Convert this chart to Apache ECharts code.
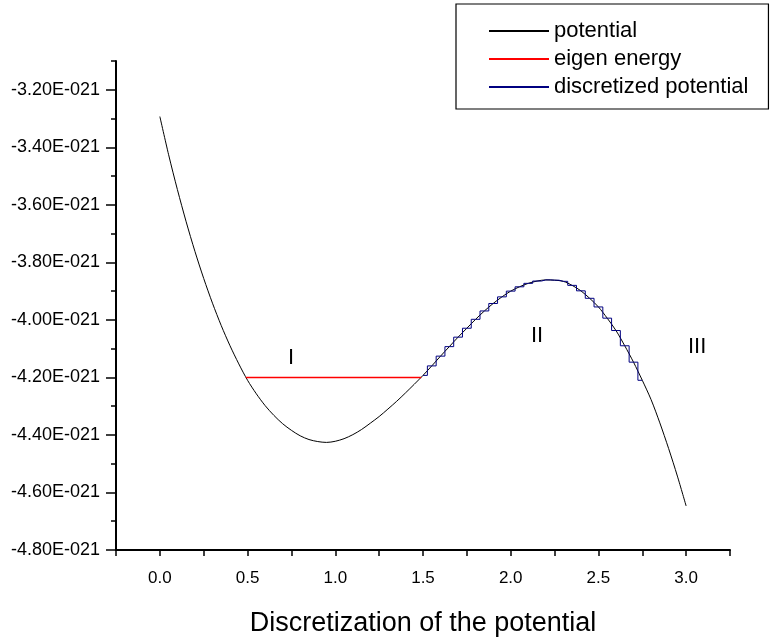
<!DOCTYPE html>
<html>
<head>
<meta charset="utf-8">
<script src="https://cdn.jsdelivr.net/npm/echarts@6/dist/echarts.min.js"></script>
<style>html,body{margin:0;padding:0;background:#fff;}#c{width:771px;height:642px;}</style>
</head>
<body>
<div id="c"></div>
<script>
// values in units of 1E-021
const potentialX = [0.00, 0.05, 0.10, 0.15, 0.20, 0.25, 0.30, 0.35, 0.40, 0.45, 0.50, 0.55, 0.60, 0.65, 0.70, 0.75, 0.80, 0.85, 0.90, 0.95, 1.00, 1.05, 1.10, 1.15, 1.20, 1.25, 1.30, 1.35, 1.40, 1.45, 1.50, 1.55, 1.60, 1.65, 1.70, 1.75, 1.80, 1.85, 1.90, 1.95, 2.00, 2.05, 2.10, 2.15, 2.20, 2.25, 2.30, 2.35, 2.40, 2.45, 2.50, 2.55, 2.60, 2.65, 2.70, 2.75, 2.80, 2.85, 2.90, 2.95, 3.00];
const potentialY = [-3.293, -3.426, -3.547, -3.659, -3.762, -3.856, -3.942, -4.020, -4.090, -4.153, -4.210, -4.257, -4.298, -4.332, -4.361, -4.384, -4.403, -4.416, -4.423, -4.426, -4.422, -4.413, -4.399, -4.381, -4.359, -4.336, -4.310, -4.283, -4.254, -4.224, -4.193, -4.160, -4.126, -4.093, -4.060, -4.029, -3.998, -3.969, -3.943, -3.920, -3.900, -3.885, -3.873, -3.865, -3.861, -3.862, -3.866, -3.880, -3.899, -3.925, -3.955, -3.994, -4.037, -4.090, -4.147, -4.210, -4.277, -4.358, -4.447, -4.543, -4.647];
const eigenX = [0.49, 1.49];
const eigenY = [-4.2, -4.2];
const discreteX = [1.50, 1.55, 1.60, 1.65, 1.70, 1.75, 1.80, 1.85, 1.90, 1.95, 2.00, 2.05, 2.10, 2.15, 2.20, 2.25, 2.30, 2.35, 2.40, 2.45, 2.50, 2.55, 2.60, 2.65, 2.70, 2.75];
const discreteY = [-4.193, -4.160, -4.126, -4.093, -4.060, -4.029, -3.998, -3.969, -3.943, -3.920, -3.900, -3.885, -3.873, -3.865, -3.861, -3.862, -3.866, -3.880, -3.899, -3.925, -3.955, -3.994, -4.037, -4.090, -4.147, -4.210];
const seriesNames = ['potential', 'eigen energy', 'discretized potential'];
const xAxisTitle = 'Discretization of the potential';
const regionLabels = ['I', 'II', 'III'];
const yMajorTicks = [-4.8, -4.6, -4.4, -4.2, -4.0, -3.8, -3.6, -3.4, -3.2];
const yMinorTicks = [-4.7, -4.5, -4.3, -4.1, -3.9, -3.7, -3.5, -3.3, -3.1];

const zip = (xs, ys) => xs.map((x, i) => [x, ys[i]]);
const FONT = '"Liberation Sans", Arial, sans-serif';

const chart = echarts.init(document.getElementById('c'), null, {renderer: 'canvas'});
chart.setOption({
  animation: false,
  backgroundColor: '#fff',
  grid: {left: 116, right: 41, top: 61, bottom: 86},
  legend: {
    orient: 'vertical', left: 456, top: 4,
    padding: [16, 20, 11, 32],
    itemWidth: 60, itemHeight: 14, itemGap: 6,
    borderColor: '#000', borderWidth: 1.2,
    itemStyle: {opacity: 0},
    lineStyle: {opacity: 1},
    data: seriesNames,
    textStyle: {fontFamily: FONT, fontSize: 22, color: '#000', lineHeight: 22}
  },
  xAxis: {
    type: 'value', min: -0.25, max: 3.25, interval: 0.25,
    name: xAxisTitle, nameLocation: 'middle', nameGap: 60,
    nameTextStyle: {fontFamily: FONT, fontSize: 27, color: '#000'},
    axisLine: {onZero: false, lineStyle: {color: '#000', width: 2}},
    axisTick: {inside: false, length: 6, lineStyle: {color: '#000', width: 1.5}},
    axisLabel: {
      margin: 20, fontFamily: FONT, fontSize: 17, color: '#000',
      formatter: v => (Math.abs(Math.round(v * 2) - v * 2) < 1e-6 ? v.toFixed(1) : '')
    },
    splitLine: {show: false}
  },
  yAxis: [
    {
      type: 'value', min: -4.8, max: -3.1, interval: 0.2, position: 'left',
      axisLine: {onZero: false, lineStyle: {color: '#000', width: 2}},
      axisTick: {inside: false, length: 10, customValues: yMajorTicks, lineStyle: {color: '#000', width: 1.5}},
      axisLabel: {
        margin: 16, fontFamily: FONT, fontSize: 18, color: '#000', customValues: yMajorTicks,
        formatter: v => v.toFixed(2) + 'E-021'
      },
      splitLine: {show: false}
    },
    {
      type: 'value', min: -4.8, max: -3.1, interval: 0.1, position: 'left', offset: 0,
      axisLine: {show: false, onZero: false},
      axisTick: {show: true, inside: false, length: 5, customValues: yMinorTicks, lineStyle: {color: '#000', width: 1.5}},
      axisLabel: {show: false},
      splitLine: {show: false}
    }
  ],
  series: [
    {
      name: seriesNames[0], type: 'line', data: zip(potentialX, potentialY),
      smooth: 0.3, symbol: 'none', lineStyle: {color: '#000', width: 1}, itemStyle: {color: '#000'}, z: 2
    },
    {
      name: seriesNames[1], type: 'line', data: zip(eigenX, eigenY),
      symbol: 'none', lineStyle: {color: '#ff0000', width: 1.5}, itemStyle: {color: '#ff0000'}, z: 3
    },
    {
      name: seriesNames[2], type: 'line', data: zip(discreteX, discreteY), step: 'middle',
      symbol: 'none', lineStyle: {color: '#000080', width: 1}, itemStyle: {color: '#000080'}, z: 4
    }
  ],
  graphic: [
    {type: 'text', left: 288, top: 347, style: {text: regionLabels[0], font: '22px ' + FONT, fill: '#000'}},
    {type: 'text', left: 531, top: 325, style: {text: regionLabels[1], font: '22px ' + FONT, fill: '#000'}},
    {type: 'text', left: 688, top: 336, style: {text: regionLabels[2], font: '22px ' + FONT, fill: '#000'}}
  ]
});
</script>
</body>
</html>
